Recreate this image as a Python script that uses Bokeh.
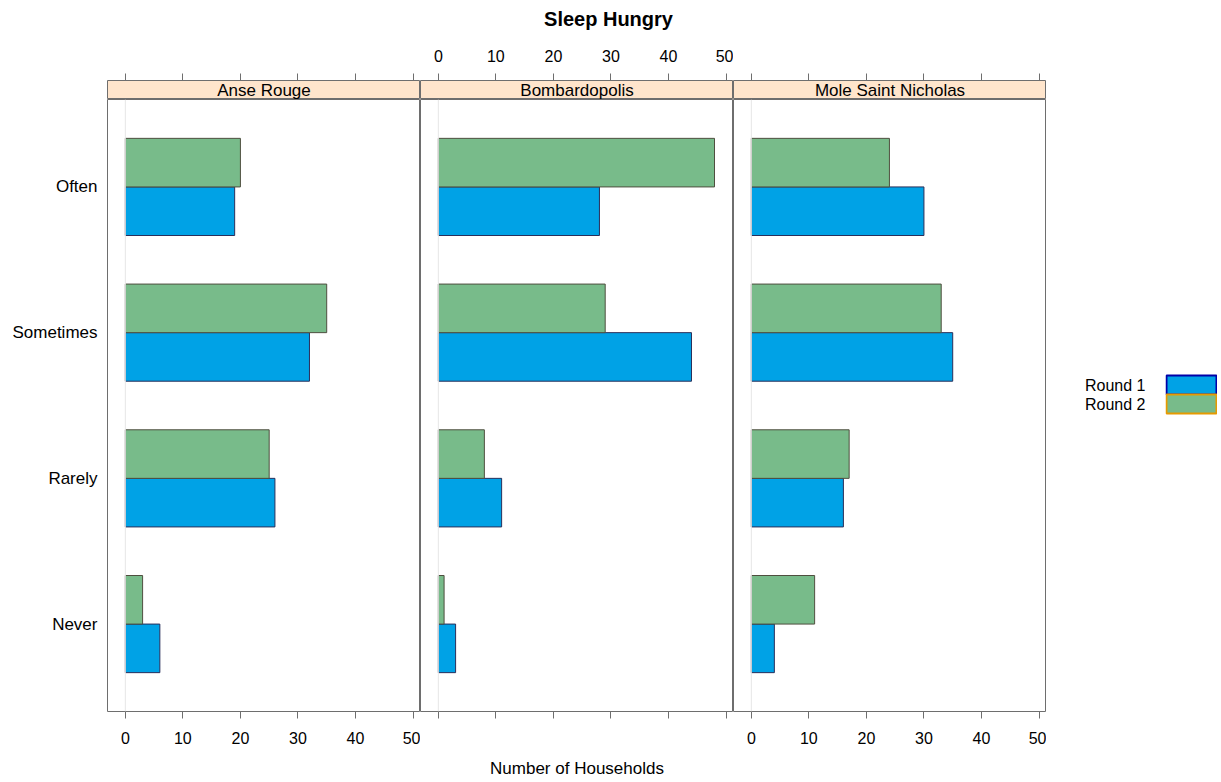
from bokeh.plotting import figure
from bokeh.layouts import column, row
from bokeh.models import Range1d, Span
from bokeh.embed import file_html
from bokeh.resources import INLINE
from bokeh.core.properties import value

# ---------------- data ----------------
title_text = "Sleep Hungry"
x_label = "Number of Households"
sites = ["Anse Rouge", "Bombardopolis", "Mole Saint Nicholas"]
responses = ["Never", "Rarely", "Sometimes", "Often"]
rounds = ["Round 1", "Round 2"]
x_ticks = [0, 10, 20, 30, 40, 50]

anse_rouge_round1 = [6, 26, 32, 19]
anse_rouge_round2 = [3, 25, 35, 20]
bombardopolis_round1 = [3, 11, 44, 28]
bombardopolis_round2 = [1, 8, 29, 48]
mole_saint_nicholas_round1 = [4, 16, 35, 30]
mole_saint_nicholas_round2 = [11, 17, 33, 24]

round1_values = [anse_rouge_round1, bombardopolis_round1, mole_saint_nicholas_round1]
round2_values = [anse_rouge_round2, bombardopolis_round2, mole_saint_nicholas_round2]

# ---------------- style ----------------
FONT = "Liberation Sans"
BORDER = "#6E6E6E"
STRIP_BG = "#FFE5CC"
R1_FILL = "#00A2E6"
R2_FILL = "#78BB8A"
R1_LINE = "#2A2F5A"
R2_LINE = "#4F4F3F"
R1_KEY_LINE = "#0000A8"
R2_KEY_LINE = "#E69A00"
X_START, X_END = -3.1, 51.3
Y_START, Y_END = 0.4, 4.6
FRAME_W = 313
FRAME_H = 612
LEFT_W = 107
BAR_H = 1 / 3

# ---------------- title ----------------
title_fig = figure(width=LEFT_W + 3 * FRAME_W + 170, height=40, output_backend="svg",
                   toolbar_location=None, x_axis_type=None, y_axis_type=None,
                   min_border=0, outline_line_color=None)
title_fig.title.text = title_text
title_fig.title.align = "center"
title_fig.title.text_font = FONT
title_fig.title.text_font_size = "20px"
title_fig.title.text_font_style = "bold"
title_fig.title.text_color = "black"
title_fig.grid.visible = False

strips = []
mains = []
for i, site in enumerate(sites):
    first = i == 0
    xr = Range1d(X_START, X_END)

    # strip with top axis
    s = figure(frame_width=FRAME_W, frame_height=19, x_range=xr, y_range=Range1d(0, 1),
               output_backend="svg", toolbar_location=None,
               x_axis_location="above", y_axis_location=None,
               min_border_left=LEFT_W if first else 0, min_border_right=0,
               min_border_top=40, min_border_bottom=0,
               background_fill_color=STRIP_BG, outline_line_color=BORDER)
    s.grid.visible = False
    s.text(x=[(X_START + X_END) / 2], y=[0.5], text=[site], text_align="center",
           text_baseline="middle", text_font=value(FONT), text_font_size="17px",
           text_color="black")
    ax = s.xaxis[0]
    ax.ticker = x_ticks
    ax.axis_line_color = None
    ax.major_tick_in = 0
    ax.major_tick_out = 7
    ax.major_tick_line_color = BORDER
    ax.minor_tick_line_color = None
    ax.major_label_standoff = 12
    ax.major_label_text_font = FONT
    ax.major_label_text_font_size = "16px"
    ax.major_label_text_color = "black" if i == 1 else None
    strips.append(s)

    # main panel
    p = figure(frame_width=FRAME_W, frame_height=FRAME_H, x_range=xr,
               y_range=Range1d(Y_START, Y_END), output_backend="svg",
               toolbar_location=None, x_axis_location="below",
               y_axis_location="left" if first else None,
               min_border_left=LEFT_W if first else 0, min_border_right=0,
               min_border_top=0, min_border_bottom=72,
               outline_line_color=BORDER)
    p.grid.visible = False
    p.add_layout(Span(location=0, dimension="height", line_color="#E6E6E6", line_width=1))

    ypos = [k + 1 for k in range(len(responses))]
    p.hbar(y=[y - BAR_H / 2 for y in ypos], left=0, right=round1_values[i], height=BAR_H,
           fill_color=R1_FILL, line_color=R1_LINE, line_width=1)
    p.hbar(y=[y + BAR_H / 2 for y in ypos], left=0, right=round2_values[i], height=BAR_H,
           fill_color=R2_FILL, line_color=R2_LINE, line_width=1)

    bx = p.xaxis[0]
    bx.ticker = x_ticks
    bx.axis_line_color = None
    bx.major_tick_in = 0
    bx.major_tick_out = 7
    bx.major_tick_line_color = BORDER
    bx.minor_tick_line_color = None
    bx.major_label_standoff = 13
    bx.major_label_text_font = FONT
    bx.major_label_text_font_size = "16px"
    bx.major_label_text_color = None if i == 1 else "black"
    if i == 1:
        bx.axis_label = x_label
        bx.axis_label_standoff = 40
        bx.axis_label_text_font = FONT
        bx.axis_label_text_font_size = "17px"
        bx.axis_label_text_font_style = "normal"
        bx.axis_label_text_color = "black"

    if first:
        ly = p.yaxis[0]
        ly.ticker = ypos
        ly.major_label_overrides = {y: r for y, r in zip(ypos, responses)}
        ly.axis_line_color = None
        ly.major_tick_in = 0
        ly.major_tick_out = 0
        ly.minor_tick_line_color = None
        ly.major_label_standoff = 10
        ly.major_label_text_font = FONT
        ly.major_label_text_font_size = "17px"
        ly.major_label_text_color = "black"
    mains.append(p)

# ---------------- legend (keys to the right of labels) ----------------
# frame spans the panel height; the range places the 19px-tall keys mid-height
key_pos = [1, 0]  # Round 1 above Round 2
units_per_px = 1 / 19
leg_top = 1 + 0.5 + 276 * units_per_px
leg = figure(frame_width=52, frame_height=FRAME_H, x_range=Range1d(-0.02, 1.02),
             y_range=Range1d(leg_top - FRAME_H * units_per_px, leg_top),
             output_backend="svg", toolbar_location=None,
             x_axis_location=None, y_axis_location="left",
             min_border_left=119, min_border_right=0,
             min_border_top=0, min_border_bottom=72, outline_line_color=None)
leg.grid.visible = False
leg.hbar(y=key_pos, left=0, right=1, height=1, fill_color=[R1_FILL, R2_FILL],
         line_color=[R1_KEY_LINE, R2_KEY_LINE], line_width=2)
la = leg.yaxis[0]
la.ticker = key_pos
la.major_label_overrides = {k: r for k, r in zip(key_pos, rounds)}
la.axis_line_color = None
la.major_tick_in = 0
la.major_tick_out = 0
la.minor_tick_line_color = None
la.major_label_standoff = 20
la.major_label_text_font = FONT
la.major_label_text_font_size = "16px"
la.major_label_text_color = "black"

layout = column(title_fig, row(*strips), row(*mains, leg))
open("out.html", "w").write(file_html(layout, INLINE))
